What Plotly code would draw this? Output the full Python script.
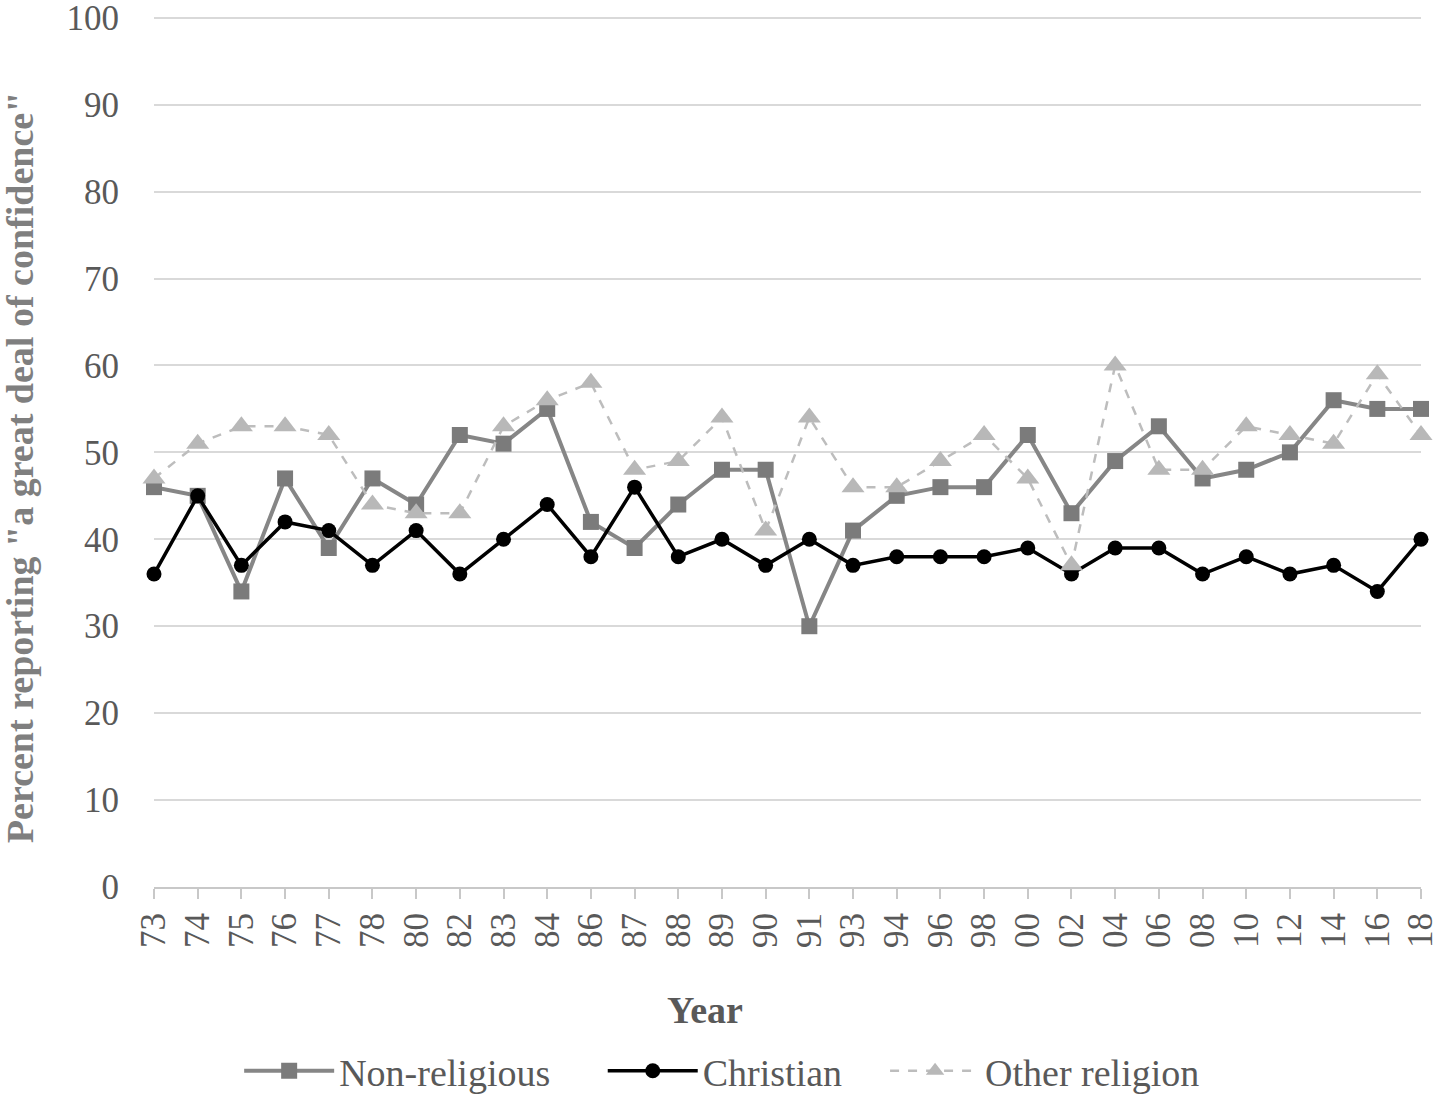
import plotly.graph_objects as go

years = ["73", "74", "75", "76", "77", "78", "80", "82", "83", "84", "86", "87", "88", "89", "90",
         "91", "93", "94", "96", "98", "00", "02", "04", "06", "08", "10", "12", "14", "16", "18"]

non_religious = [46, 45, 34, 47, 39, 47, 44, 52, 51, 55, 42, 39, 44, 48, 48,
                 30, 41, 45, 46, 46, 52, 43, 49, 53, 47, 48, 50, 56, 55, 55]
christian = [36, 45, 37, 42, 41, 37, 41, 36, 40, 44, 38, 46, 38, 40, 37,
             40, 37, 38, 38, 38, 39, 36, 39, 39, 36, 38, 36, 37, 34, 40]
other_religion = [47, 51, 53, 53, 52, 44, 43, 43, 53, 56, 58, 48, 49, 54, 41,
                  54, 46, 46, 49, 52, 47, 37, 60, 48, 48, 53, 52, 51, 59, 52]

y_ticks = [0, 10, 20, 30, 40, 50, 60, 70, 80, 90, 100]

FONT = "Liberation Serif"

fig = go.Figure()
fig.add_trace(go.Scatter(
    x=years, y=non_religious, name="Non-religious" + "\u00a0" * 5, mode="lines+markers",
    line=dict(color="#868686", width=4),
    marker=dict(symbol="square", size=16, color="#7b7b7b"),
    cliponaxis=False))
fig.add_trace(go.Scatter(
    x=years, y=christian, name="Christian" + "\u00a0" * 4, mode="lines+markers",
    line=dict(color="#000000", width=3.5),
    marker=dict(symbol="circle", size=15, color="#000000"),
    cliponaxis=False))
fig.add_trace(go.Scatter(
    x=years, y=other_religion, name="Other religion", mode="lines+markers",
    line=dict(color="#bdbdbd", width=2.5, dash="dash"),
    marker=dict(symbol="triangle-up", size=20, color="#b8b8b8"),
    cliponaxis=False))

fig.update_layout(
    width=1440, height=1095,
    margin=dict(l=154, r=19, t=16, b=208),
    paper_bgcolor="white", plot_bgcolor="white",
    font=dict(family=FONT, size=35, color="#595959"),
    showlegend=True,
    legend=dict(orientation="h", xref="container", x=0.5015, xanchor="center",
                yref="container", y=0.0219, yanchor="middle",
                font=dict(family=FONT, size=38, color="#595959"), itemwidth=90,
                traceorder="normal", bgcolor="rgba(0,0,0,0)"),
    xaxis=dict(type="category", categoryorder="array", categoryarray=years,
               range=[0, 29], showgrid=False, showline=True, linecolor="#c8c8c8", linewidth=2,
               ticks="outside", ticklen=10, tickcolor="#c8c8c8", tickwidth=2,
               tickangle=-90, tickfont=dict(family=FONT, size=35, color="#595959"),
               zeroline=False, automargin=False),
    yaxis=dict(range=[0, 100.2], tickvals=y_ticks, showgrid=True, gridcolor="#d9d9d9", gridwidth=2,
               showline=False, zeroline=False, ticks="outside", ticklen=27,
               tickcolor="rgba(0,0,0,0)", tickfont=dict(family=FONT, size=35, color="#595959"),
               ticklabeloverflow="allow", automargin=False),
    annotations=[
        dict(text="<b>Year</b>", xref="paper", yref="paper", x=0.435, y=-0.1412,
             xanchor="center", yanchor="middle", showarrow=False,
             font=dict(family=FONT, size=38, color="#595959")),
        dict(text="<b>Percent reporting \"a great deal of confidence\"</b>", xref="paper", yref="paper",
             x=-0.1058, y=0.482, xanchor="center", yanchor="middle", textangle=-90, showarrow=False,
             font=dict(family=FONT, size=38, color="#7f7f7f")),
    ],
)

fig.write_html("out.html", config={"displayModeBar": False},
               post_script="document.body.style.margin='0';")
